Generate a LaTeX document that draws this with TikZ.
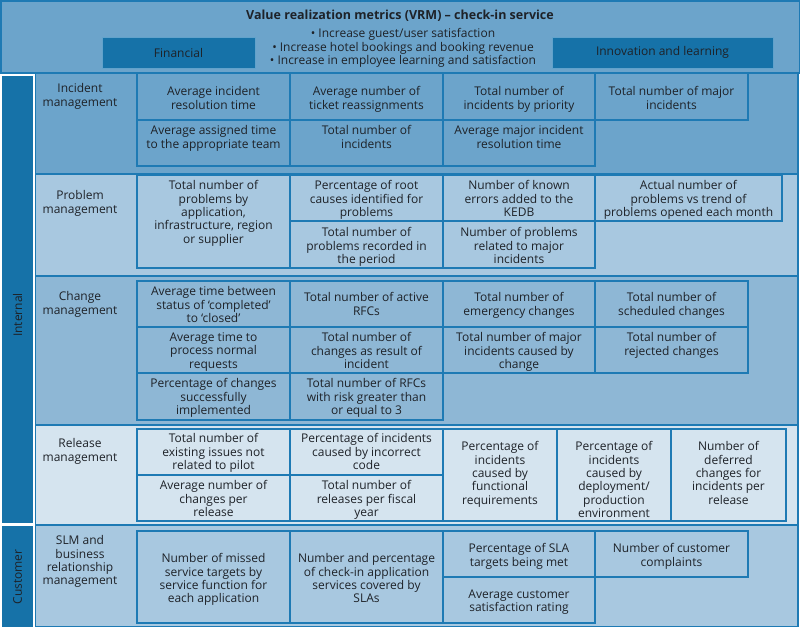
\documentclass[tikz,border=0pt]{standalone}
\usepackage{fontspec}
\setmainfont{Open Sans}
\definecolor{hdr}{RGB}{108,164,203}
\definecolor{deep}{RGB}{22,114,168}
\definecolor{edge}{RGB}{30,122,180}
\definecolor{prbfill}{RGB}{168,200,224}
\definecolor{chgfill}{RGB}{142,183,213}
\definecolor{relfill}{RGB}{213,228,239}
\definecolor{ink}{RGB}{30,34,40}
\begin{document}
\begin{tikzpicture}[x=1pt, y=-1pt,
    txt/.style={align=center, anchor=north, inner sep=0pt, yshift=-1.5pt, text=ink, font=\fontsize{12}{13.3}\selectfont, execute at begin node=\strut},
    cell/.style={draw=edge, line width=1.3pt},
    band/.style={draw=edge, line width=1.5pt},
    pillar/.style={fill=deep, draw=edge!70!white, line width=1pt, text=ink, font=\fontsize{12}{13.3}\selectfont}]
      \useasboundingbox (0,0) rectangle (800,629);
      \fill[white] (0,0) rectangle (800,629);
      % Header
      \filldraw[band, fill=hdr] (0.75,0.75) rectangle (799.25,73);
      \node[txt, font=\bfseries\fontsize{12.5}{13.3}\selectfont] (title) at (400,8) {Value realization metrics (VRM) – check-in service};
      \node[txt] (goals) at (403,27) {• Increase guest/user satisfaction\\• Increase hotel bookings and booking revenue\\• Increase in employee learning and satisfaction};
      \node[pillar, minimum width=153pt, minimum height=31pt] (fin) at (178.5,52.5) {Financial};
      \node[pillar, minimum width=221pt, minimum height=31pt] (innov) at (662.5,52.5) {Innovation and learning};
      % Side bars
      \fill[deep] (2,76) rectangle (33,523);
      \fill[deep] (2,526) rectangle (33,627);
      \node[rotate=90, text=ink, font=\fontsize{12}{13.3}\selectfont] (internal) at (17.5,315) {Internal};
      \node[rotate=90, text=ink, font=\fontsize{12}{13.3}\selectfont] (customer) at (17.5,577) {Customer};
      % Bands
      \filldraw[band, fill=hdr] (35.5,73) rectangle (798,174);
      \filldraw[band, fill=prbfill] (35.5,174) rectangle (798,276);
      \filldraw[band, fill=chgfill] (35.5,276) rectangle (798,425);
      \filldraw[band, fill=relfill] (35.5,425) rectangle (798,525);
      \filldraw[band, fill=prbfill] (35.5,525) rectangle (798,626.5);
      % Incident management
      \node[txt] (lblinc) at (80,82) {Incident\\management};
      \draw[cell] (137,73) rectangle (290,120) (290,73) rectangle (443,120) (443,73) rectangle (595,120) (595,73) rectangle (748,120);
      \draw[cell] (137,120) rectangle (290,166) (290,120) rectangle (443,166) (443,120) rectangle (595,166);
      \node[txt] (incres) at (213.5,85) {Average incident\\resolution time};
      \node[txt] (increas) at (366.5,85) {Average number of\\ticket reassignments};
      \node[txt] (incprio) at (519,85) {Total number of\\incidents by priority};
      \node[txt] (incmaj) at (671.5,85) {Total number of major\\incidents};
      \node[txt] (incteam) at (213.5,124) {Average assigned time\\to the appropriate team};
      \node[txt] (inctot) at (366.5,124) {Total number of\\incidents};
      \node[txt] (incmajres) at (519,124) {Average major incident\\resolution time};
      % Problem management
      \node[txt] (lblprb) at (80,189) {Problem\\management};
      \draw[cell] (137,175) rectangle (290,268) (290,175) rectangle (443,221) (443,175) rectangle (595,221) (595,175) rectangle (782,221);
      \draw[cell] (290,221) rectangle (443,268) (443,221) rectangle (595,268);
      \node[txt] (prbapp) at (213.5,179) {Total number of\\problems by\\application,\\infrastructure, region\\or supplier};
      \node[txt] (prbroot) at (366.5,179) {Percentage of root\\causes identified for\\problems};
      \node[txt] (prbkedb) at (519,179) {Number of known\\errors added to the\\KEDB};
      \node[txt] (prbtrend) at (688.5,179) {Actual number of\\problems vs trend of\\problems opened each month};
      \node[txt] (prbper) at (366.5,226) {Total number of\\problems recorded in\\the period};
      \node[txt] (prbmaj) at (519,226) {Number of problems\\related to major\\incidents};
      % Change management
      \node[txt] (lblchg) at (80,290) {Change\\management};
      \draw[cell] (137,281) rectangle (290,327) (290,281) rectangle (443,327) (443,281) rectangle (595,327) (595,281) rectangle (748,327);
      \draw[cell] (137,327) rectangle (290,373) (290,327) rectangle (443,373) (443,327) rectangle (595,373) (595,327) rectangle (748,373);
      \draw[cell] (137,373) rectangle (290,420) (290,373) rectangle (443,420);
      \node[txt] (chgclose) at (213.5,285) {Average time between\\status of ‘completed’\\to ‘closed’};
      \node[txt] (chgact) at (366.5,291) {Total number of active\\RFCs};
      \node[txt] (chgemg) at (519,291) {Total number of\\emergency changes};
      \node[txt] (chgsch) at (671.5,291) {Total number of\\scheduled changes};
      \node[txt] (chgnorm) at (213.5,331) {Average time to\\process normal\\requests};
      \node[txt] (chginc) at (366.5,331) {Total number of\\changes as result of\\incident};
      \node[txt] (chgmaj) at (519,331) {Total number of major\\incidents caused by\\change};
      \node[txt] (chgrej) at (671.5,331) {Total number of\\rejected changes};
      \node[txt] (chgsucc) at (213.5,377) {Percentage of changes\\successfully\\implemented};
      \node[txt] (chgrisk) at (366.5,377) {Total number of RFCs\\with risk greater than\\or equal to 3};
      % Release management
      \node[txt] (lblrel) at (80,437) {Release\\management};
      \draw[cell] (137,429) rectangle (290,475) (290,429) rectangle (443,475) (137,475) rectangle (290,521) (290,475) rectangle (443,521);
      \draw[cell] (443,429) rectangle (557,521) (557,429) rectangle (671,521) (671,429) rectangle (786,521);
      \node[txt] (relpilot) at (213.5,432) {Total number of\\existing issues not\\related to pilot};
      \node[txt] (relcode) at (366.5,432) {Percentage of incidents\\caused by incorrect\\code};
      \node[txt] (relavg) at (213.5,479) {Average number of\\changes per\\release};
      \node[txt] (relyear) at (366.5,479) {Total number of\\releases per fiscal\\year};
      \node[txt] (relfunc) at (500,440) {Percentage of\\incidents\\caused by\\functional\\requirements};
      \node[txt] (reldep) at (614,440) {Percentage of\\incidents\\caused by\\deployment/\\production\\environment};
      \node[txt] (reldef) at (728.5,440) {Number of\\deferred\\changes for\\incidents per\\release};
      % SLM and business relationship management
      \node[txt] (lblslm) at (80,534) {SLM and\\business\\relationship\\management};
      \draw[cell] (137,531) rectangle (290,623) (290,531) rectangle (443,623);
      \draw[cell] (443,531) rectangle (595,577) (595,531) rectangle (748,577) (443,577) rectangle (595,623);
      \node[txt] (slmmiss) at (213.5,552) {Number of missed\\service targets by\\service function for\\each application};
      \node[txt] (slmcov) at (366.5,552) {Number and percentage\\of check-in application\\services covered by\\SLAs};
      \node[txt] (slmmet) at (519,542) {Percentage of SLA\\targets being met};
      \node[txt] (slmcomp) at (671.5,542) {Number of customer\\complaints};
      \node[txt] (slmsat) at (519,588) {Average customer\\satisfaction rating};
\end{tikzpicture}
\end{document}
